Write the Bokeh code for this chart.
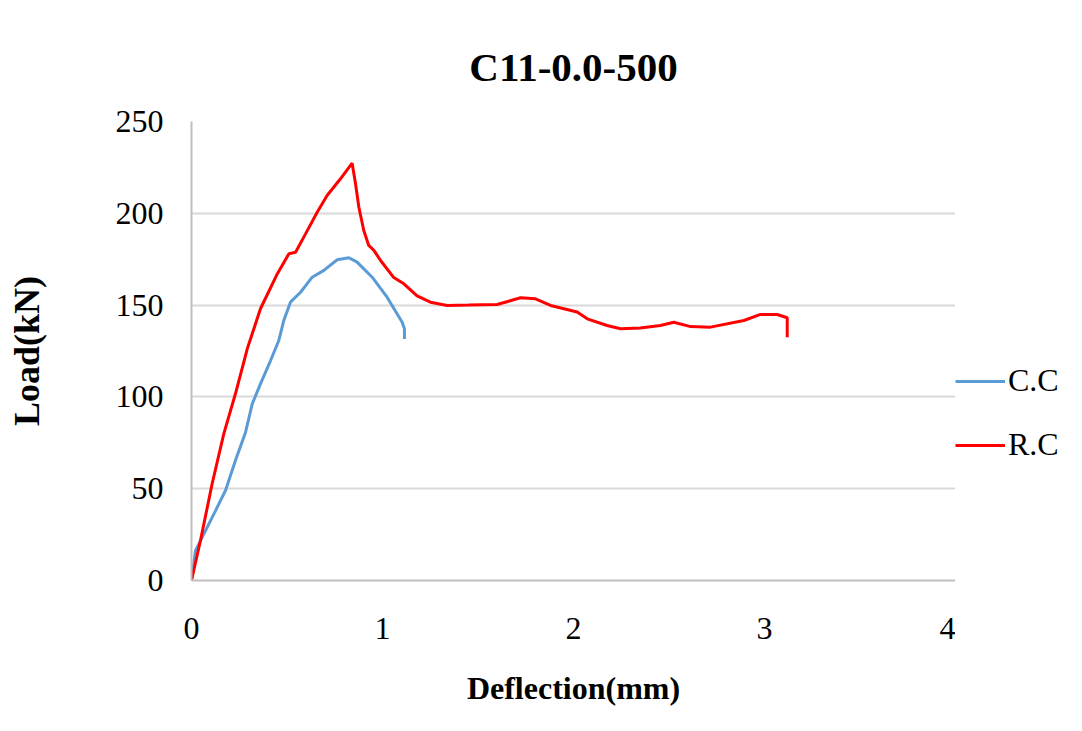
from bokeh.plotting import figure
from bokeh.layouts import row
from bokeh.models import Range1d, FixedTicker, Legend, LegendItem
from bokeh.embed import file_html
from bokeh.resources import INLINE

# Data
cc_deflection = [0, 0.021, 0.065, 0.126, 0.178, 0.230, 0.283, 0.318, 0.361, 0.414,
                 0.457, 0.483, 0.518, 0.571, 0.632, 0.693, 0.763, 0.824, 0.867,
                 0.946, 1.024, 1.103, 1.115, 1.115]
cc_load = [0, 16.3, 25.4, 38.1, 49, 65.4, 80.8, 96.2, 107.1, 119.8,
           130.7, 141.6, 151.6, 157, 165.2, 168.9, 174.7, 175.8, 173.4,
           165.2, 154.3, 140.7, 137.1, 131.6]

rc_deflection = [0, 0.047, 0.108, 0.169, 0.230, 0.292, 0.361, 0.449, 0.510, 0.545,
                 0.597, 0.658, 0.710, 0.780, 0.841, 0.859, 0.876, 0.902, 0.928,
                 0.955, 0.990, 1.059, 1.112, 1.181, 1.251, 1.339, 1.45, 1.600,
                 1.723, 1.801, 1.880, 2.019, 2.072, 2.176, 2.246, 2.35, 2.455,
                 2.525, 2.613, 2.717, 2.892, 2.979, 3.066, 3.119, 3.119]
rc_load = [0, 21.8, 52.7, 79.9, 101.7, 126.2, 148, 167, 178, 178.8,
           188.8, 200.6, 209.7, 218.8, 227.3, 216, 203.4, 190.6, 182.5,
           179.8, 174.3, 165, 161.6, 155, 151.6, 149.8, 150, 150.3,
           154, 153.4, 149.8, 146.2, 142.5, 138.9, 137.1, 137.5, 138.9,
           140.7, 138.3, 138, 141.6, 144.9, 144.9, 143.1, 132.5]

x_ticks = [0, 1, 2, 3, 4]
y_ticks = [0, 50, 100, 150, 200, 250]
series_names = ["C.C", "R.C"]
series_colors = ["#5B9BD5", "#FF0000"]
series_x = [cc_deflection, rc_deflection]
series_y = [cc_load, rc_load]

FONT = "Liberation Serif"

# ---- main chart ----
p = figure(width=955, height=731, output_backend="svg", toolbar_location=None,
           x_range=Range1d(x_ticks[0], x_ticks[-1]),
           y_range=Range1d(y_ticks[0], y_ticks[-1]),
           min_border_left=191, min_border_right=0,
           min_border_top=121, min_border_bottom=151,
           title="C11-0.0-500")
p.outline_line_color = None
p.background_fill_color = "white"
p.border_fill_color = "white"

p.title.align = "center"
p.title.text_font = FONT
p.title.text_font_size = "41px"
p.title.text_font_style = "bold"
p.title.text_color = "black"
p.title.standoff = 63

p.xgrid.grid_line_color = None
p.ygrid.grid_line_color = "#d9d9d9"
p.ygrid.grid_line_width = 2

for ax in (p.xaxis[0], p.yaxis[0]):
    ax.major_tick_line_color = None
    ax.minor_tick_line_color = None
    ax.axis_line_color = "#bfbfbf"
    ax.axis_line_width = 2
    ax.major_label_text_font = FONT
    ax.major_label_text_font_size = "32px"
    ax.major_label_text_color = "black"
    ax.axis_label_text_font = FONT
    ax.axis_label_text_font_style = "bold"
    ax.axis_label_text_color = "black"

p.xaxis.ticker = FixedTicker(ticks=x_ticks)
p.yaxis.ticker = FixedTicker(ticks=y_ticks)
p.xaxis.major_label_standoff = 31
p.yaxis.major_label_standoff = 22
p.xaxis.axis_label = "Deflection(mm)"
p.yaxis.axis_label = "Load(kN)"
p.xaxis.axis_label_text_font_size = "32px"
p.yaxis.axis_label_text_font_size = "36px"
p.xaxis.axis_label_standoff = 28
p.yaxis.axis_label_standoff = 66

for xs, ys, color in zip(series_x, series_y, series_colors):
    p.line(xs, ys, line_color=color, line_width=3)

# ---- legend strip on the right (same series, ranges set so only the legend shows) ----
lg = figure(width=127, height=731, output_backend="svg", toolbar_location=None,
            x_range=Range1d(-2, -1), y_range=Range1d(-2, -1),
            x_axis_location=None, y_axis_location=None,
            min_border=0)
lg.outline_line_color = None
lg.grid.visible = False
lg.background_fill_color = "white"
lg.border_fill_color = "white"
items = []
for name, xs, ys, color in zip(series_names, series_x, series_y, series_colors):
    r = lg.line(xs, ys, line_color=color, line_width=3)
    items.append(LegendItem(label=name, renderers=[r]))

legend = Legend(items=items, location=(0, 117))
legend.label_text_font = FONT
legend.label_text_font_size = "32px"
legend.label_text_color = "black"
legend.glyph_width = 50
legend.glyph_height = 20
legend.label_height = 20
legend.spacing = 27
legend.padding = 0
legend.margin = 0
legend.label_standoff = 3
legend.border_line_alpha = 0
legend.background_fill_alpha = 0
lg.add_layout(legend, "center")

layout = row(p, lg, spacing=0)
open("out.html", "w").write(file_html(layout, INLINE))
